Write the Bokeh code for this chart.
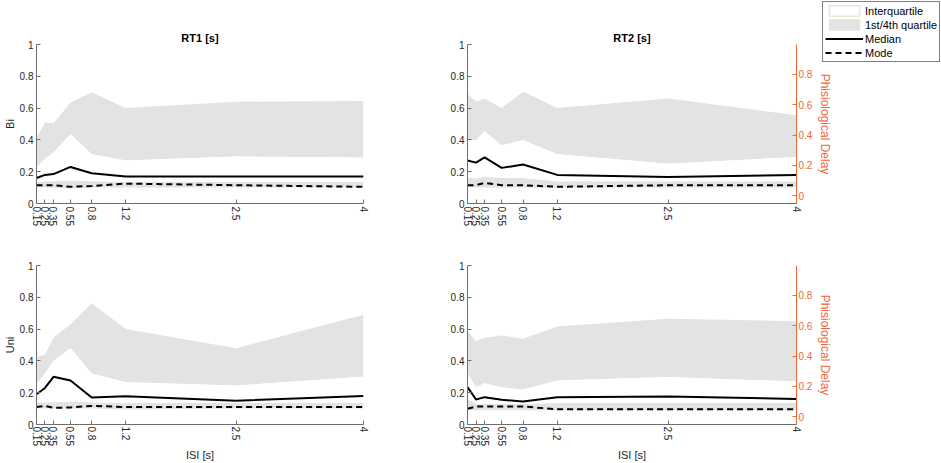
from bokeh.plotting import figure
from bokeh.models import (Range1d, LinearAxis, FixedTicker, CustomJSTickFormatter,
                          Legend, LegendItem, GridBox, Column)
from bokeh.embed import file_html
from bokeh.resources import INLINE

# ---------------- data ----------------
isi = [0.15, 0.25, 0.35, 0.55, 0.8, 1.2, 2.5, 4]
y_ticks = [0, 0.2, 0.4, 0.6, 0.8, 1]
delay_ticks = [0, 0.2, 0.4, 0.6, 0.8]
col_titles = ["RT1 [s]", "RT2 [s]"]
row_labels = ["Bi", "Uni"]
legend_labels = ["Interquartile", "1st/4th quartile", "Median", "Mode"]

# Bi / RT1
bi_rt1_max = [0.41, 0.51, 0.505, 0.635, 0.70, 0.60, 0.64, 0.645]
bi_rt1_q3 = [0.23, 0.28, 0.32, 0.435, 0.31, 0.27, 0.295, 0.29]
bi_rt1_med = [0.16, 0.18, 0.185, 0.23, 0.19, 0.17, 0.17, 0.17]
bi_rt1_q1 = [0.135, 0.14, 0.14, 0.145, 0.14, 0.135, 0.135, 0.135]
bi_rt1_min = [0.10, 0.10, 0.10, 0.095, 0.10, 0.10, 0.10, 0.10]
bi_rt1_mode = [0.115, 0.115, 0.115, 0.105, 0.11, 0.125, 0.115, 0.105]

# Bi / RT2
bi_rt2_max = [0.69, 0.64, 0.66, 0.60, 0.705, 0.60, 0.66, 0.555]
bi_rt2_q3 = [0.40, 0.40, 0.455, 0.365, 0.40, 0.31, 0.25, 0.293]
bi_rt2_med = [0.27, 0.257, 0.29, 0.224, 0.245, 0.18, 0.167, 0.18]
bi_rt2_q1 = [0.165, 0.155, 0.17, 0.16, 0.16, 0.14, 0.14, 0.14]
bi_rt2_min = [0.10, 0.10, 0.10, 0.10, 0.10, 0.10, 0.10, 0.10]
bi_rt2_mode = [0.115, 0.115, 0.13, 0.115, 0.115, 0.105, 0.115, 0.115]

# Uni / RT1
uni_rt1_max = [0.424, 0.44, 0.545, 0.63, 0.763, 0.60, 0.48, 0.69]
uni_rt1_q3 = [0.256, 0.32, 0.40, 0.48, 0.32, 0.266, 0.245, 0.30]
uni_rt1_med = [0.19, 0.23, 0.30, 0.277, 0.17, 0.178, 0.15, 0.18]
uni_rt1_q1 = [0.14, 0.14, 0.14, 0.145, 0.14, 0.135, 0.135, 0.135]
uni_rt1_min = [0.10, 0.10, 0.10, 0.10, 0.10, 0.095, 0.10, 0.10]
uni_rt1_mode = [0.11, 0.117, 0.105, 0.107, 0.117, 0.11, 0.11, 0.11]

# Uni / RT2
uni_rt2_max = [0.59, 0.524, 0.545, 0.56, 0.54, 0.616, 0.665, 0.65]
uni_rt2_q3 = [0.32, 0.235, 0.26, 0.235, 0.218, 0.277, 0.298, 0.27]
uni_rt2_med = [0.235, 0.157, 0.172, 0.155, 0.145, 0.172, 0.176, 0.161]
uni_rt2_q1 = [0.16, 0.13, 0.13, 0.13, 0.13, 0.135, 0.135, 0.135]
uni_rt2_min = [0.09, 0.09, 0.09, 0.09, 0.09, 0.09, 0.09, 0.09]
uni_rt2_mode = [0.099, 0.113, 0.113, 0.113, 0.113, 0.096, 0.096, 0.096]

# ---------------- style ----------------
FONT = "Liberation Sans"
GRAY_FILL = "#e3e3e3"
AXIS_COL = "#6e6e6e"
TEXT_COL = "#262626"
ORANGE = "#F0673A"

fmt = CustomJSTickFormatter(code="return String(tick)")


def style_axis(ax, color=AXIS_COL, text_color=TEXT_COL):
    ax.axis_line_color = color
    ax.major_tick_line_color = color
    ax.major_tick_in = 4
    ax.major_tick_out = 0
    ax.minor_tick_line_color = None
    ax.major_label_text_font = FONT
    ax.major_label_text_font_size = "10px"
    ax.major_label_text_color = text_color
    ax.major_label_standoff = 3
    ax.axis_label_text_font = FONT
    ax.axis_label_text_font_size = "11px"
    ax.axis_label_text_font_style = "normal"
    ax.axis_label_text_color = text_color
    ax.axis_label_standoff = 1
    ax.formatter = fmt


def panel(vmax, q3, med, q1, vmin, mode, title, ylabel, xlabel, right_axis,
          width, height, bl, br, bt, bb):
    p = figure(width=width, height=height, output_backend="svg", toolbar_location=None,
               x_range=Range1d(0.15, 4), y_range=Range1d(0, 1),
               min_border_left=bl, min_border_right=br, min_border_top=bt,
               min_border_bottom=bb, outline_line_color=None)
    p.xgrid.visible = False
    p.ygrid.visible = False
    if title:
        p.title.text = title
        p.title.align = "center"
        p.title.text_font = FONT
        p.title.text_font_size = "11px"
        p.title.text_font_style = "bold"
        p.title.text_color = "#000000"
        p.title.standoff = 2
    p.varea(x=isi, y1=q3, y2=vmax, fill_color=GRAY_FILL)
    p.varea(x=isi, y1=vmin, y2=q1, fill_color=GRAY_FILL)
    p.varea(x=isi, y1=q1, y2=q3, fill_color="#ffffff")
    p.line(isi, med, line_color="black", line_width=2)
    p.line(isi, mode, line_color="black", line_width=2, line_dash="6 4")

    p.xaxis.ticker = FixedTicker(ticks=isi)
    p.yaxis.ticker = FixedTicker(ticks=y_ticks)
    p.xaxis.major_label_orientation = "vertical"
    for ax in p.xaxis + p.yaxis:
        style_axis(ax)
    if ylabel:
        p.yaxis.axis_label = ylabel
    if xlabel:
        p.xaxis.axis_label = xlabel
        p.xaxis.axis_label_standoff = 0
        p.xaxis.major_label_standoff = 2

    if right_axis:
        p.extra_y_ranges = {"delay": Range1d(-0.05, 0.995)}
        rax = LinearAxis(y_range_name="delay", ticker=FixedTicker(ticks=delay_ticks),
                         axis_label="Phisiological Delay")
        style_axis(rax, color=ORANGE, text_color=ORANGE)
        rax.major_label_standoff = 2
        rax.axis_label_standoff = 3
        rax.axis_label_text_font_size = "12px"
        p.add_layout(rax, "right")
    return p


W_L, W_R = 430, 511
H_T, H_B = 240, 223

p1 = panel(bi_rt1_max, bi_rt1_q3, bi_rt1_med, bi_rt1_q1, bi_rt1_min, bi_rt1_mode,
           col_titles[0], row_labels[0], None, False, W_L, H_T, 33, 67, 44, 37)
p2 = panel(bi_rt2_max, bi_rt2_q3, bi_rt2_med, bi_rt2_q1, bi_rt2_min, bi_rt2_mode,
           col_titles[1], None, None, True, W_R, H_T, 37, 145, 44, 37)
p3 = panel(uni_rt1_max, uni_rt1_q3, uni_rt1_med, uni_rt1_q1, uni_rt1_min, uni_rt1_mode,
           None, row_labels[1], "ISI [s]", False, W_L, H_B, 33, 67, 25, 39)
p4 = panel(uni_rt2_max, uni_rt2_q3, uni_rt2_med, uni_rt2_q1, uni_rt2_min, uni_rt2_mode,
           None, None, "ISI [s]", True, W_R, H_B, 37, 145, 25, 39)

# ---- legend overlay (same grid cell as the top-right panel, transparent) ----
# its renderers use the RT2/Bi data but lie outside this overlay's visible range,
# so only their legend swatches are drawn
pl = figure(width=W_R, height=H_T, output_backend="svg", toolbar_location=None,
            x_range=Range1d(100, 101), y_range=Range1d(100, 101),
            x_axis_location=None, y_axis_location=None,
            min_border=0, outline_line_color=None,
            background_fill_alpha=0, border_fill_alpha=0)
if "frame_align" in pl.properties():
    pl.frame_align = False
pl.xgrid.visible = False
pl.ygrid.visible = False
r_iq = pl.patch(x=isi + isi[::-1], y=bi_rt2_q1 + bi_rt2_q3[::-1], fill_color="#ffffff",
                line_color="#eee4d2", line_width=1.5)
r_q = pl.patch(x=isi + isi[::-1], y=bi_rt2_q3 + bi_rt2_max[::-1], fill_color=GRAY_FILL,
               line_color=GRAY_FILL)
r_med = pl.line(x=isi, y=bi_rt2_med, line_color="black", line_width=2)
r_mode = pl.line(x=isi, y=bi_rt2_mode, line_color="black", line_width=2, line_dash="6 4")

legend = Legend(items=[
    LegendItem(label=legend_labels[0], renderers=[r_iq]),
    LegendItem(label=legend_labels[1], renderers=[r_q]),
    LegendItem(label=legend_labels[2], renderers=[r_med]),
    LegendItem(label=legend_labels[3], renderers=[r_mode]),
], location=(392, 178))
legend.border_line_color = "#000000"
legend.border_line_width = 1
legend.background_fill_color = "#ffffff"
legend.background_fill_alpha = 1
legend.label_text_font = FONT
legend.label_text_font_size = "11px"
legend.label_text_color = "#000000"
legend.glyph_width = 38
legend.glyph_height = 13
legend.label_height = 13
legend.label_standoff = 2
legend.padding = 2
legend.spacing = 1
legend.margin = 0
pl.add_layout(legend)

leg_box = Column(children=[pl])

grid = GridBox(children=[(p1, 0, 0), (p2, 0, 1), (leg_box, 0, 1), (p3, 1, 0), (p4, 1, 1)])

open("out.html", "w").write(file_html(grid, INLINE))
